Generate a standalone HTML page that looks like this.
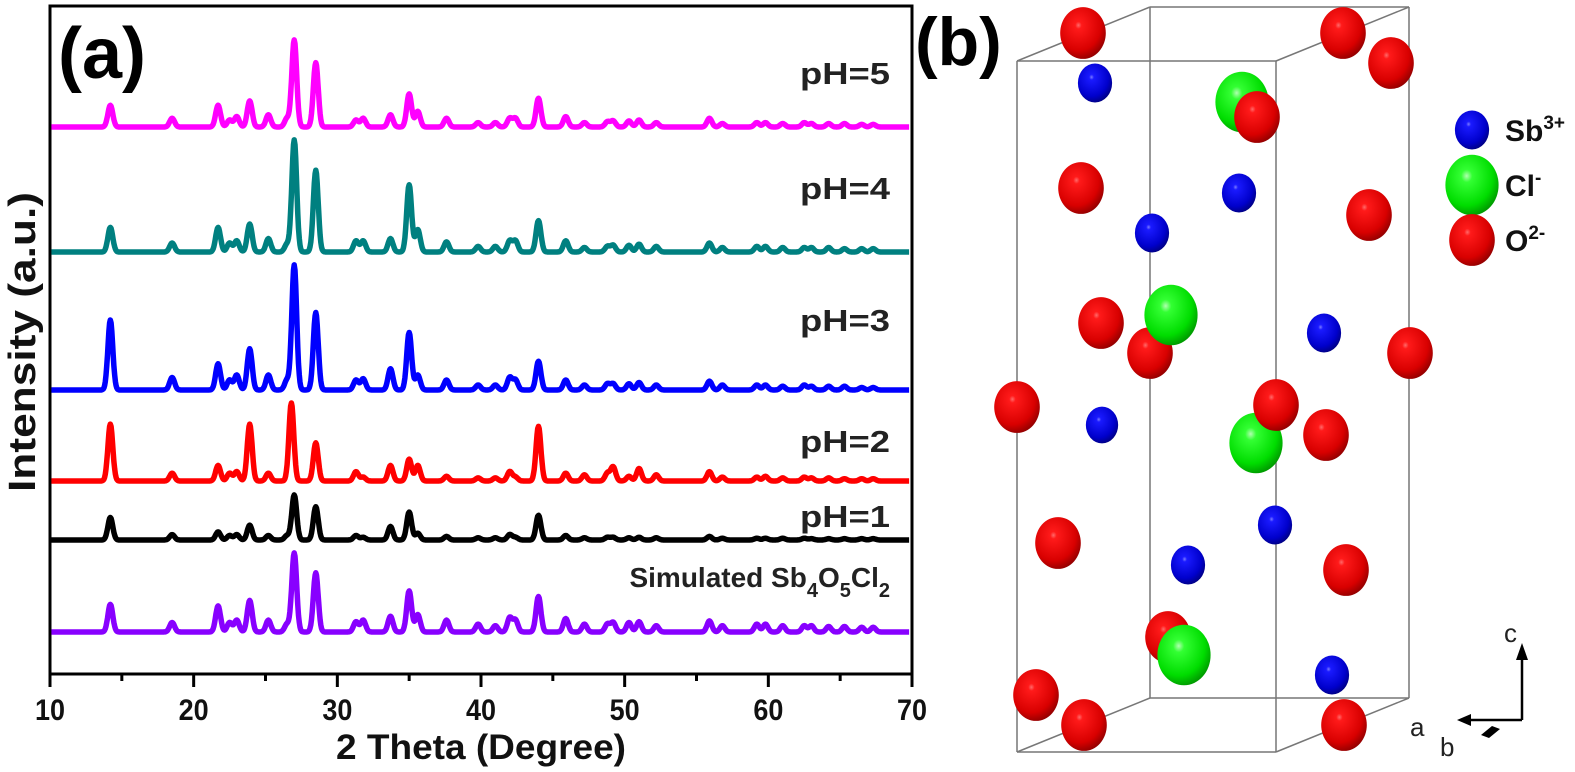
<!DOCTYPE html>
<html><head><meta charset="utf-8"><style>
html,body{margin:0;padding:0;background:#fff;}
svg{display:block;font-family:"Liberation Sans",Arial,sans-serif;}
</style></head><body>
<svg id="fig" width="1575" height="772" viewBox="0 0 1575 772">
<defs>
<radialGradient id="gR" cx="0.4" cy="0.35" r="0.7"><stop offset="0" stop-color="#ff6a6a"/><stop offset="0.1" stop-color="#ff1a1a"/><stop offset="0.7" stop-color="#d80000"/><stop offset="1" stop-color="#8a0000"/></radialGradient>
<radialGradient id="gB" cx="0.4" cy="0.35" r="0.7"><stop offset="0" stop-color="#7a7aff"/><stop offset="0.1" stop-color="#1a1aff"/><stop offset="0.7" stop-color="#0000cc"/><stop offset="1" stop-color="#00007a"/></radialGradient>
<radialGradient id="gG" cx="0.4" cy="0.35" r="0.7"><stop offset="0" stop-color="#b0ffb0"/><stop offset="0.15" stop-color="#33ff33"/><stop offset="0.7" stop-color="#00dd00"/><stop offset="1" stop-color="#009000"/></radialGradient>
</defs>
<g id="panelA"></g>
<g id="panelB"></g>
</svg>
<script>
const NS="http://www.w3.org/2000/svg";
function mk(tag,attrs,parent){const e=document.createElementNS(NS,tag);for(const k in attrs)e.setAttribute(k,attrs[k]);parent.appendChild(e);return e;}

// ---- Chart data ----
const seriesNames=["pH=5","pH=4","pH=3","pH=2","pH=1","Simulated"];
const seriesColors=["#ff00ff","#008080","#0000ff","#ff0000","#000000","#8800ff"];
const offsets=[127,252,390,481,540,632];
const maxHeights=[87,112,125,78,45,79];
const peakPos=[14.2,18.5,21.7,22.5,23.0,23.9,25.2,26.5,27.0,28.5,31.3,31.8,33.7,35.0,35.6,37.6,39.8,41.0,42.0,42.4,44.0,45.9,47.2,48.8,49.2,50.3,51.0,52.2,55.9,56.8,59.2,59.8,61.0,62.5,63.0,64.2,65.3,66.5,67.3];
const int5=[.25,.1,.25,.08,.12,.3,.14,.1,1,.74,.08,.1,.14,.38,.18,.1,.05,.05,.1,.1,.33,.12,.05,.06,.07,.07,.08,.05,.1,.04,.05,.05,.04,.05,.04,.04,.04,.03,.03];
const int4=[.22,.08,.22,.08,.1,.25,.12,.07,1,.73,.1,.1,.12,.6,.2,.09,.05,.05,.1,.1,.28,.1,.04,.05,.06,.06,.07,.05,.08,.04,.05,.05,.04,.04,.04,.04,.03,.03,.03];
const int3=[.56,.1,.21,.08,.12,.33,.12,.08,1,.62,.08,.09,.17,.46,.12,.08,.04,.04,.1,.08,.23,.08,.04,.05,.05,.05,.06,.04,.07,.04,.04,.04,.03,.04,.03,.03,.03,.02,.02];
const int2=[.73,.1,.2,.1,.12,.73,.1,1,0,.49,.12,.05,.2,.28,.2,.06,.04,.04,.12,.05,.7,.1,.08,.1,.18,.06,.16,.08,.12,.05,.05,.06,.04,.05,.04,.04,.03,.03,.03];
const int1=[.5,.12,.18,.1,.12,.33,.1,.1,1,.74,.1,.06,.3,.62,.15,.08,.05,.05,.12,.06,.55,.1,.05,.06,.06,.05,.06,.05,.08,.04,.04,.04,.04,.04,.03,.03,.03,.03,.03];
const intS=[.35,.12,.33,.12,.15,.4,.15,.1,1,.75,.13,.15,.2,.52,.22,.15,.1,.08,.18,.15,.45,.17,.1,.1,.12,.12,.13,.08,.14,.08,.1,.1,.08,.08,.08,.07,.07,.06,.06];
const intensities=[int5,int4,int3,int2,int1,intS];
const xTicks=[10,20,30,40,50,60,70];
const labelY=[75,190,322,443,518,578];

const X0=50,X1=912,Y0=6,Y1=674,XMIN=10,XMAX=70;
const xs=v=>X0+(v-XMIN)/(XMAX-XMIN)*(X1-X0);
const A=document.getElementById('panelA');
const frame=mk('rect',{x:X0,y:Y0,width:X1-X0,height:Y1-Y0,fill:'none',stroke:'#000','stroke-width':3},A);


for(let v=10;v<=70;v+=5){
  const major=v%10===0;
  const t=mk('line',{x1:xs(v),x2:xs(v),y1:Y1,y2:Y1+(major?13:7),stroke:'#000','stroke-width':3},A);
  
  
}
xTicks.forEach(v=>{
  const t=mk('text',{x:xs(v),y:720,'text-anchor':'middle','font-size':30,'font-weight':'bold',fill:'#111',textLength:30,lengthAdjust:'spacingAndGlyphs'},A);
  t.textContent=v;
  
  
});
const xt=mk('text',{x:(X0+X1)/2,y:759,'text-anchor':'middle','font-size':35,'font-weight':'bold',fill:'#111',textLength:290,lengthAdjust:'spacingAndGlyphs'},A);
xt.textContent='2 Theta (Degree)';


const yt=mk('text',{x:0,y:0,transform:'translate(35,342) rotate(-90)','text-anchor':'middle','font-size':38,'font-weight':'bold',fill:'#111',textLength:300,lengthAdjust:'spacingAndGlyphs'},A);
yt.textContent='Intensity (a.u.)';


const pa=mk('text',{x:58,y:78,'font-size':72,'font-weight':'bold',fill:'#000'},A);
pa.textContent='(a)';



const shiftPos=(s,p)=> (s===3 && p===26.5)?26.8:p;
seriesNames.forEach((nm,s)=>{
  let pts=[];
  for(let x=10.1;x<=69.8;x+=0.05){
    let y=0;
    peakPos.forEach((p,i)=>{const pp=shiftPos(s,p);const w=0.17;const d=(x-pp)/w;y+=intensities[s][i]*Math.exp(-d*d/2);});
    pts.push(xs(x).toFixed(1)+','+(offsets[s]-y*maxHeights[s]).toFixed(1));
  }
  const pl=mk('polyline',{points:pts.join(' '),fill:'none',stroke:seriesColors[s],'stroke-width':5.5,'stroke-linejoin':'round'},A);
  
  
  const lb=mk('text',{x:890,y:labelY[s]+9,'text-anchor':'end','font-size':(s===5?28:31),'font-weight':'bold',fill:'#222'},A);
  if(s===5){lb.innerHTML='Simulated Sb<tspan dy="10" font-size="20">4</tspan><tspan dy="-10">O</tspan><tspan dy="10" font-size="20">5</tspan><tspan dy="-10">Cl</tspan><tspan dy="10" font-size="20">2</tspan>';}
  else {lb.textContent=nm;lb.setAttribute('textLength',90);lb.setAttribute('lengthAdjust','spacingAndGlyphs');}
  
  
});

// ---- Panel b ----
const B=document.getElementById('panelB');
const pb=mk('text',{x:915,y:65,'font-size':68,'font-weight':'bold',fill:'#000'},B);
pb.textContent='(b)';


const edges=[[1017,61,1276,61],[1150,7,1409,7],[1017,61,1150,7],[1276,61,1409,7],[1017,752,1276,752],[1150,698,1409,698],[1017,752,1150,698],[1276,752,1409,698],[1017,61,1017,752],[1276,61,1276,752],[1150,7,1150,698],[1409,7,1409,698]];
edges.forEach(e=>{const l=mk('line',{x1:e[0],y1:e[1],x2:e[2],y2:e[3],stroke:'#777','stroke-width':1.5},B);

});
const atoms=[
['O',1083,33,24],['O',1343,33,24],['O',1391,63,24],['G',1242,102,28],['O',1257,117,24],['B',1095,83,18],
['O',1081,188,24],['B',1239,193,18],['O',1369,215,24],['B',1152,233,18],
['O',1101,323,24],['O',1150,353,24],['G',1171,315,28],['O',1410,353,24],['B',1324,333,18],
['O',1017,407,24],['B',1102,425,17],['G',1256,443,28],['O',1276,405,24],['O',1326,435,24],
['B',1275,525,18],['O',1058,543,24],['B',1188,565,18],['O',1346,570,24],
['O',1168,637,24],['G',1184,655,28],['B',1332,675,18],['O',1036,695,24],['O',1084,725,24],['O',1344,725,24]];
const fills={O:'url(#gR)',B:'url(#gB)',G:'url(#gG)'};
const names={O:'oxygen-atom',B:'antimony-atom',G:'chlorine-atom'};
atoms.forEach(a=>{const c=mk('ellipse',{cx:a[1],cy:a[2],rx:a[3]*0.95,ry:a[3]*1.08,fill:fills[a[0]]},B);

});
const leg=[['B',1472,130,18,'Sb','3+'],['G',1472,185,28,'Cl','-'],['O',1472,240,24,'O','2-']];
leg.forEach(l=>{const c=mk('ellipse',{cx:l[1],cy:l[2],rx:l[3]*0.95,ry:l[3]*1.08,fill:fills[l[0]]},B);


const t=mk('text',{x:1505,y:l[2]+11,'font-size':30,'font-weight':'bold',fill:'#111'},B);
t.innerHTML=l[4]+'<tspan dy="-12" font-size="19">'+l[5]+'</tspan>';

});
const ax=mk('g',{},B);


mk('line',{x1:1522,y1:720,x2:1522,y2:655,stroke:'#000','stroke-width':2.5},ax);
mk('polygon',{points:'1522,643 1516,660 1528,660',fill:'#000'},ax);
mk('line',{x1:1522,y1:720,x2:1468,y2:720,stroke:'#000','stroke-width':2.5},ax);
mk('polygon',{points:'1457,720 1471,714 1471,726',fill:'#000'},ax);
mk('polygon',{points:'1481,735 1492,726 1500,729 1489,738',fill:'#000'},ax);
const tc=mk('text',{x:1504,y:642,'font-size':26,fill:'#222'},ax);tc.textContent='c';
const ta=mk('text',{x:1410,y:736,'font-size':26,fill:'#222'},ax);ta.textContent='a';
const tb=mk('text',{x:1440,y:756,'font-size':26,fill:'#222'},ax);tb.textContent='b';
</script>
</body></html>
